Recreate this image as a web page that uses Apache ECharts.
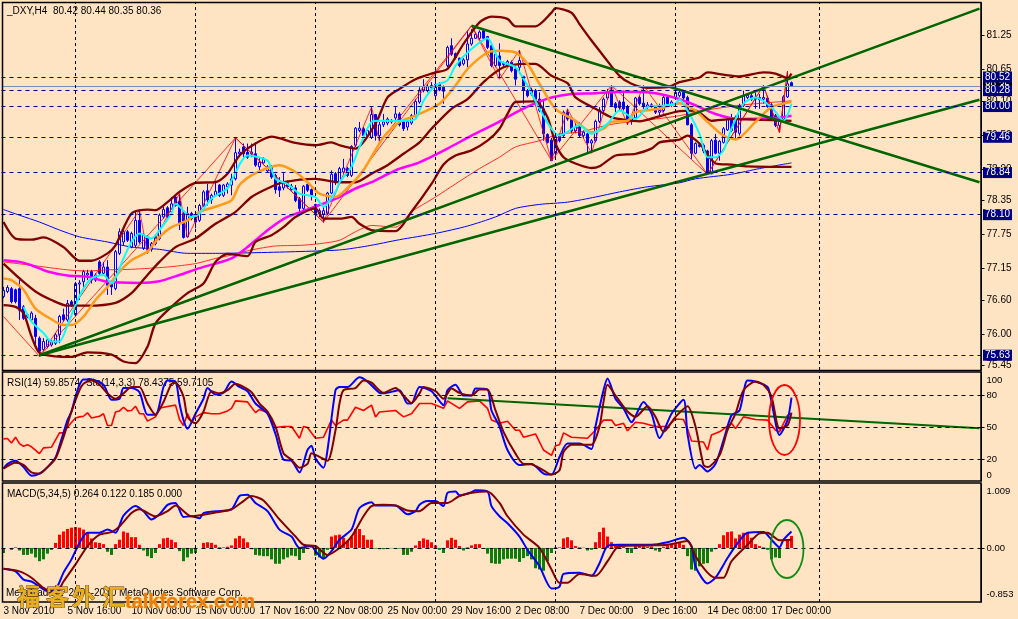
<!DOCTYPE html>
<html><head><meta charset="utf-8"><style>html,body{margin:0;padding:0;background:#FFE4C4}#c{width:1018px;height:619px}</style>
<script src="https://cdn.jsdelivr.net/npm/echarts@6/dist/echarts.min.js"></script></head><body><div id="c"></div>
<script>
// [open, close, low, high]
const candles = [
[76.66,76.77,76.63,76.83],[76.75,76.82,76.72,76.86],[76.80,76.57,76.54,76.83],[76.78,76.57,76.54,76.80],[76.80,76.42,76.25,76.95],[76.48,76.28,76.25,76.51],[76.34,76.31,76.28,76.37],[76.25,76.37,76.22,76.40],[76.28,75.96,75.78,76.34],[75.93,75.70,75.61,75.96],
[75.73,75.87,75.70,75.93],[75.78,75.90,75.75,75.93],[75.81,75.87,75.78,75.90],[75.84,75.99,75.81,76.02],[75.99,76.31,75.84,76.34],[76.34,76.25,76.22,76.45],[76.25,76.54,76.22,76.60],[76.57,76.51,76.48,76.60],[76.34,76.89,76.31,76.92],[76.88,76.90,76.60,76.95],
[76.92,77.10,76.77,77.13],[77.04,77.07,76.95,77.13],[77.10,76.95,76.89,77.13],[76.95,77.04,76.92,77.07],[77.27,77.07,77.04,77.30],[77.07,77.18,77.04,77.27],[77.18,76.86,76.69,77.30],[76.92,76.83,76.69,76.95],[76.80,77.45,76.77,77.48],[77.42,77.80,77.39,77.86],
[77.62,77.80,77.56,77.86],[77.80,77.65,77.62,77.83],[77.53,77.77,77.51,77.80],[77.56,78.00,77.53,78.15],[78.00,77.62,77.59,78.18],[77.51,77.74,77.48,77.77],[77.70,77.49,77.42,77.74],[77.49,77.59,77.45,77.62],[77.59,77.70,77.56,77.74],[77.68,78.09,77.65,78.12],
[78.06,78.19,78.03,78.24],[78.22,78.06,78.03,78.25],[78.15,78.29,78.12,78.41],[78.41,78.26,78.24,78.44],[78.34,77.96,77.83,78.47],[78.12,77.70,77.68,78.18],[77.71,78.12,77.70,78.24],[78.12,78.03,78.00,78.15],[78.06,77.97,77.86,78.09],[78.00,78.26,77.97,78.29],
[78.26,78.50,78.24,78.53],[78.52,78.36,78.26,78.64],[78.36,78.44,78.29,78.47],[78.44,78.51,78.41,78.70],[78.62,78.44,78.41,78.64],[78.44,78.62,78.41,78.64],[78.59,78.64,78.47,78.67],[78.62,78.73,78.44,78.82],[78.73,79.19,78.70,79.45],[79.17,79.20,79.11,79.26],
[79.29,79.17,79.08,79.35],[79.20,79.11,79.08,79.35],[79.17,79.20,79.11,79.35],[79.17,78.97,78.94,79.37],[78.94,79.02,78.85,79.11],[79.01,79.07,79.00,79.11],[78.87,78.94,78.85,78.97],[78.94,78.76,78.73,78.97],[78.79,78.54,78.47,78.82],[78.59,78.53,78.41,78.76],
[78.57,78.66,78.53,78.83],[78.66,78.59,78.56,78.70],[78.54,78.60,78.52,78.64],[78.57,78.35,78.32,78.62],[78.38,78.21,78.15,78.41],[78.21,78.60,78.18,78.62],[78.63,78.53,78.50,78.67],[78.54,78.44,78.35,78.56],[78.28,78.12,78.06,78.29],[78.12,78.17,78.06,78.21],
[78.11,78.17,77.96,78.24],[78.12,78.48,78.09,78.50],[78.48,78.81,78.46,78.88],[78.82,78.66,78.62,78.85],[78.67,78.91,78.64,78.94],[78.85,78.92,78.82,79.08],[78.91,78.79,78.76,78.94],[78.79,79.30,78.76,79.32],[79.32,79.62,79.29,79.64],[79.58,79.62,79.55,79.73],
[79.61,79.49,79.46,79.64],[79.49,79.58,79.46,79.61],[79.46,79.86,79.43,79.99],[79.86,79.49,79.40,79.87],[79.49,79.68,79.37,79.73],[79.68,79.73,79.64,79.87],[79.71,79.78,79.67,79.81],[79.73,79.75,79.70,79.78],[79.80,79.87,79.75,79.99],[79.87,79.68,79.65,79.90],
[79.74,79.61,79.57,79.75],[79.64,79.73,79.58,79.75],[79.71,79.84,79.68,79.87],[79.84,80.09,79.81,80.13],[80.08,80.29,80.05,80.34],[80.28,80.35,80.25,80.48],[80.28,80.35,80.25,80.40],[80.33,80.37,80.28,80.43],[80.19,80.39,80.16,80.66],[80.40,80.29,80.27,80.43],
[80.34,80.27,80.05,80.37],[80.72,81.04,80.69,81.07],[81.07,80.92,80.89,81.20],[80.93,80.86,80.83,80.95],[80.85,80.72,80.69,80.86],[80.75,80.82,80.72,80.85],[80.82,81.10,80.69,81.33],[81.10,81.20,81.07,81.36],[81.20,81.27,81.19,81.30],[81.20,81.31,81.17,81.34],
[81.33,81.20,81.19,81.36],[81.23,81.04,81.01,81.24],[81.07,80.72,80.69,81.10],[80.72,80.92,80.69,80.95],[80.89,80.72,80.51,81.11],[80.76,80.74,80.70,80.79],[80.72,80.79,80.69,80.82],[80.78,80.63,80.60,80.81],[80.66,80.48,80.37,80.69],[80.69,80.81,80.57,80.99],
[80.53,80.28,80.05,80.54],[80.28,80.19,80.16,80.31],[80.22,80.29,80.19,80.33],[80.28,80.13,80.10,80.31],[80.13,79.93,79.90,80.25],[79.96,79.52,79.40,80.11],[79.51,79.37,79.35,79.53],[79.41,79.05,79.04,79.45],[79.18,79.47,79.11,79.50],[79.49,79.40,79.37,79.52],
[79.49,79.90,79.46,79.93],[79.90,79.78,79.75,79.96],[79.78,79.57,79.53,79.81],[79.57,79.64,79.53,79.70],[79.64,79.49,79.46,79.73],[79.49,79.55,79.45,79.58],[79.52,79.36,79.18,79.55],[79.36,79.40,79.20,79.43],[79.40,79.74,79.37,79.77],[79.74,79.94,79.71,79.99],
[79.93,80.13,79.90,80.16],[80.15,80.25,80.12,80.31],[80.27,80.02,79.99,80.37],[80.05,79.98,79.90,80.08],[80.08,79.98,79.94,80.11],[80.08,79.96,79.93,80.28],[80.00,79.75,79.68,80.03],[79.74,79.81,79.68,79.84],[79.80,80.15,79.77,80.17],[80.16,80.05,80.02,80.19],
[80.06,80.00,79.96,80.37],[79.99,80.03,79.96,80.08],[80.03,80.00,79.98,80.06],[79.99,79.90,79.87,80.02],[79.90,79.93,79.82,80.05],[79.93,80.16,79.90,80.19],[80.17,80.05,80.02,80.20],[80.02,80.08,79.99,80.11],[80.16,80.25,80.13,80.28],[80.19,80.25,80.16,80.28],
[80.25,80.15,80.12,80.28],[80.16,79.68,79.67,80.19],[79.68,79.18,79.08,79.71],[79.18,79.35,79.16,79.37],[79.33,79.30,79.28,79.36],[79.32,79.22,79.18,79.35],[79.22,78.82,78.81,79.24],[78.82,79.40,78.81,79.43],[79.41,79.18,79.16,79.52],[79.18,79.39,79.05,79.41],
[79.37,79.61,79.35,79.64],[79.59,79.78,79.57,79.81],[79.80,79.58,79.55,79.87],[79.81,79.55,79.41,79.84],[79.53,80.02,79.49,80.05],[80.02,80.19,79.99,80.28],[80.16,80.20,80.13,80.23],[80.19,80.13,80.10,80.22],[80.13,80.16,79.96,80.25],[80.16,80.12,79.96,80.22],
[80.13,80.16,80.05,80.37],[80.15,80.00,79.98,80.19],[80.03,79.82,79.80,80.06],[79.84,79.67,79.64,79.87],[79.67,79.75,79.54,79.78],[79.77,80.17,79.74,80.20],[80.17,80.40,80.15,80.62],[80.42,80.36,80.35,80.44]];

const maMagenta=[[0,77.30],[4,77.27],[7,77.21],[11,77.10],[16,77.03],[21,77.01],[26,76.92],[34,76.90],[39,76.93],[44,77.04],[49,77.16],[53,77.24],[57,77.33],[61,77.53],[64,77.71],[67,77.88],[71,78.06],[76,78.19],[79,78.27],[84,78.41],[88,78.56],[92,78.67],[98,78.88],[104,79.02],[111,79.26],[117,79.49],[123,79.70],[129,79.93],[133,80.06],[137,80.16],[142,80.22],[147,80.23],[155,80.26],[161,80.25],[166,80.19],[171,80.08],[178,79.87],[184,79.78],[193,79.80],[197,79.84]];
const maOrange=[[0,76.98],[2,76.95],[5,76.78],[8,76.45],[12,76.26],[15,76.16],[17,76.16],[20,76.31],[23,76.60],[26,76.83],[29,77.10],[32,77.30],[36,77.45],[39,77.71],[42,77.88],[46,78.00],[49,78.15],[53,78.24],[57,78.35],[59,78.62],[62,78.79],[66,78.92],[69,78.97],[73,78.85],[76,78.67],[79,78.47],[83,78.41],[87,78.64],[90,78.88],[95,79.46],[99,79.73],[103,79.84],[109,80.05],[113,80.37],[116,80.66],[121,80.95],[124,80.98],[128,80.95],[131,80.75],[134,80.40],[138,79.96],[143,79.75],[147,79.55],[150,79.61],[152,79.73],[156,79.75],[158,79.90],[164,79.96],[169,80.06],[173,79.93],[176,79.73],[180,79.49],[183,79.42],[188,79.73],[192,79.99],[197,80.08]];
const maCyan=[[5,76.48],[7,76.22],[10,76.02],[12,75.87],[14,75.87],[16,76.16],[18,76.51],[20,76.80],[22,76.98],[25,77.04],[27,76.89],[30,77.33],[32,77.62],[34,77.77],[37,77.68],[39,77.83],[42,78.12],[43,78.29],[47,78.06],[49,78.12],[52,78.38],[56,78.56],[57,78.70],[61,79.14],[66,79.05],[68,78.73],[71,78.64],[74,78.47],[78,78.41],[80,78.24],[83,78.50],[84,78.67],[87,78.94],[89,79.29],[92,79.73],[94,79.75],[97,79.75],[100,79.75],[103,79.78],[105,80.10],[108,80.37],[111,80.46],[113,80.72],[117,81.01],[121,81.20],[124,80.81],[128,80.69],[131,80.37],[134,79.96],[137,79.61],[139,79.49],[144,79.67],[147,79.52],[151,79.70],[154,79.93],[158,79.78],[161,79.99],[165,80.02],[168,80.05],[169,80.13],[171,79.93],[174,79.52],[176,79.11],[178,79.11],[180,79.23],[182,79.61],[185,80.05],[188,80.16],[192,79.99],[195,79.75],[197,80.05]];
const bandUpper=[[0,77.97],[3,77.68],[7,77.66],[10,77.70],[15,77.53],[19,77.29],[22,77.29],[26,77.42],[28,77.56],[32,78.12],[36,78.19],[38,78.18],[41,78.32],[44,78.50],[48,78.66],[53,78.67],[56,78.82],[59,79.14],[63,79.35],[67,79.47],[73,79.36],[78,79.32],[82,79.37],[84,79.32],[88,79.26],[93,79.70],[96,80.16],[99,80.31],[103,80.48],[108,80.60],[111,80.66],[115,81.10],[119,81.48],[122,81.58],[126,81.54],[128,81.41],[133,81.41],[137,81.65],[138,81.73],[142,81.65],[144,81.45],[147,81.16],[150,80.89],[154,80.54],[157,80.40],[161,80.33],[166,80.34],[169,80.43],[174,80.51],[176,80.60],[180,80.56],[184,80.53],[190,80.60],[193,80.58],[196,80.50],[197,80.58]];
const bandMiddle=[[0,77.24],[4,76.98],[8,76.75],[12,76.60],[16,76.50],[21,76.50],[28,76.55],[32,76.72],[36,77.04],[39,77.27],[43,77.53],[48,77.68],[53,77.94],[58,78.15],[62,78.41],[66,78.56],[70,78.67],[78,78.73],[84,78.67],[88,78.67],[92,78.82],[96,78.97],[100,79.17],[104,79.37],[107,79.61],[112,79.96],[116,80.13],[120,80.43],[125,80.69],[130,80.75],[133,80.75],[137,80.54],[141,80.41],[143,80.16],[148,79.96],[152,79.81],[155,79.77],[159,79.74],[163,79.81],[169,79.92],[173,79.93],[177,79.75],[182,79.78],[197,79.75]];
const bandLower=[[0,76.51],[3,76.48],[5,76.37],[7,75.96],[9,75.67],[13,75.61],[17,75.60],[21,75.68],[27,75.64],[30,75.52],[33,75.49],[36,75.78],[38,76.19],[42,76.48],[46,76.72],[50,76.89],[53,77.27],[56,77.41],[61,77.37],[63,77.62],[67,77.74],[70,77.88],[73,78.06],[78,78.21],[80,78.03],[84,78.03],[87,78.06],[89,77.94],[92,77.83],[98,77.81],[102,78.15],[107,78.64],[110,78.98],[113,79.14],[117,79.23],[121,79.40],[124,79.61],[126,79.87],[128,80.08],[133,80.09],[136,79.81],[138,79.35],[140,79.11],[143,79.00],[147,78.92],[149,78.95],[153,79.14],[158,79.17],[162,79.26],[164,79.37],[169,79.42],[171,79.49],[174,79.35],[178,79.00],[182,78.98],[186,78.95],[197,78.94]];
const maThinRed=[[0,77.27],[7,77.21],[16,77.13],[21,77.11],[26,77.13],[32,77.14],[41,77.18],[48,77.24],[53,77.33],[57,77.39],[62,77.48],[68,77.55],[74,77.56],[79,77.59],[84,77.65],[88,77.80],[92,77.91],[98,77.88],[102,78.15],[108,78.41],[113,78.64],[119,78.91],[124,79.11],[128,79.29],[134,79.40],[139,79.52],[144,79.55],[149,79.64],[153,79.70],[158,79.74],[163,79.78],[169,79.84],[175,79.93],[185,80.03],[197,80.10]];
const maThinBlue=[[0,78.19],[4,78.09],[9,77.97],[14,77.83],[19,77.71],[26,77.62],[32,77.53],[39,77.49],[46,77.42],[53,77.42],[62,77.43],[73,77.45],[84,77.48],[91,77.55],[99,77.66],[108,77.77],[116,77.90],[123,78.06],[128,78.21],[134,78.28],[141,78.32],[148,78.41],[154,78.50],[161,78.59],[169,78.66],[173,78.73],[182,78.81],[189,78.91],[197,79.01]];
const zigzagMajor=[[0,76.31],[9,75.61],[58,79.45],[80,77.97],[117,81.42],[137,79.05],[152,80.37],[176,78.81],[190,80.37],[194,79.54],[196,80.62]];
const zigzagMinor=[[9,75.61],[34,78.18],[36,77.42],[44,78.47],[46,77.70],[58,79.45],[80,77.97],[92,79.99],[94,79.37],[117,81.42],[124,80.48],[129,80.99],[137,79.05],[141,79.96],[147,79.18],[152,80.37],[156,79.68],[160,80.37],[176,78.81],[190,80.37],[194,79.54],[196,80.62]];
const trendUpperRise=[[9,75.63],[244,81.72]];
const trendLowerRise=[[9,75.63],[244,80.12]];
const trendFall=[[117,81.42],[244,78.67]];

const rsi=[[0,39.4],[1,39.7],[2,35.6],[3,41],[4,35],[5,32.5],[6,34],[7,32],[9,25.6],[10,31],[12,31.6],[14,45],[15,45],[16,50.6],[18,59],[19,60],[20,60.6],[21,63.8],[22,59],[24,60.6],[25,63],[26,52],[27,52],[28,64.6],[29,65.6],[30,69],[31,65.6],[32,66],[33,70],[34,63],[35,63],[36,56],[38,60],[39,68],[40,69],[43,71],[44,57.5],[45,52],[46,63],[47,55],[48,60],[50,64],[52,63],[54,63],[56,65.6],[57,68],[58,75],[61,74],[63,64],[64,67],[66,64],[68,50],[70,51],[72,51],[74,40],[75,51],[76,50],[78,40],[80,41],[82,57],[83,52],[85,57],[86,57],[88,69],[90,66],[92,71],[93,60],[94,64.6],[98,66],[100,60],[102,63],[104,72.5],[107,72.5],[110,68],[111,75],[114,68],[116,74],[119,75],[121,68],[122,57],[124,54],[126,56],[128,47.5],[129,47.5],[130,41],[133,44],[135,29],[137,24],[138,33],[139,34],[140,45],[142,41],[146,40],[148,47.5],[150,57],[152,57],[153,52],[155,54],[156,47],[158,55],[160,54],[163,51],[166,51],[168,58],[170,57.5],[171,49],[172,37.5],[175,36.5],[176,29],[177,43],[179,46],[182,54],[183,49],[185,60],[188,57.5],[191,57],[193,47.5],[194,46],[196,61.5],[197,63]];
const stochMain=[[0,11.6],[1,16],[3,19],[5,13],[7,5],[9,7],[11,13],[13,22],[14,33],[16,57],[17,65],[18,79],[19,90],[20,95],[22,95],[25,90],[27,76],[29,77],[30,87],[32,87],[34,83],[36,62],[38,62],[40,88],[41,94],[43,93],[44,72.5],[45,57],[46,49],[48,63],[50,77],[51,87],[53,81],[55,82.5],[57,93],[59,88],[61,84],[63,72.5],[66,63],[68,44],[70,20],[72,19],[74,8],[76,29],[77,33],[78,21],[80,12.5],[81,29],[83,85],[84,88],[86,88],[89,97],[91,93],[94,82.5],[95,82],[99,85],[101,72.5],[102,72.5],[104,88],[107,84],[110,71],[111,85],[113,90],[115,80],[117,80],[118,86.5],[121,85.6],[122,66],[124,51],[126,29],[129,15],[132,16],[135,7],[137,6],[139,22.5],[141,35],[144,35],[147,30],[148,51],[150,85],[151,96],[153,77],[155,68],[157,55],[160,74],[162,63],[164,40],[167,63],[170,76],[171,44],[173,11.6],[174,15],[176,9],[178,16],[180,38],[182,61.5],[184,66],[186,94],[188,93],[191,88],[192,74],[194,43],[196,57],[197,78]];
const stochSignal=[[0,11.6],[3,17],[5,15],[7,8],[9,7],[11,13],[13,21],[15,41],[17,65],[19,85],[20,91],[22,94],[24,90],[26,82],[28,77],[30,82],[32,88],[34,88],[36,72.5],[38,62],[40,74],[42,91],[43,92],[45,79],[46,60],[48,54],[50,65],[52,84],[54,82],[56,85],[58,91],[60,88],[62,83],[64,72.5],[66,65],[68,51],[70,26],[72,20],[74,12.5],[76,16],[77,26],[79,22.5],[81,19],[83,47.5],[84,72.5],[85,85],[88,87],[90,94],[92,92],[95,82.5],[98,87],[100,80],[102,73],[104,82],[105,88],[108,84],[110,77],[112,86.5],[114,82.5],[117,80],[119,85.6],[121,85.6],[123,66],[125,46],[128,25.6],[130,16],[132,15.6],[135,10],[137,6],[139,10],[140,27],[142,34],[147,34],[149,51],[150,74],[151,90],[153,80],[156,65],[158,60],[161,70],[163,60],[165,46],[168,60],[171,70],[173,51],[175,15],[176,13],[179,24],[181,47.5],[183,63],[185,85],[188,93],[190,90],[192,79],[194,49],[196,52],[197,64]];
const rsiTrend=[[111,77.5],[244,49.4]];
const macdMain=[[0,-.33],[3,-.37],[5,-.50],[7,-.53],[9,-.61],[11,-.68],[13,-.66],[15,-.39],[17,-.18],[19,.08],[21,.24],[24,.24],[26,.29],[28,.24],[30,.51],[33,.66],[35,.58],[37,.45],[39,.53],[41,.68],[43,.71],[45,.49],[47,.50],[49,.47],[50,.55],[53,.58],[57,.61],[59,.82],[61,.84],[63,.71],[66,.58],[69,.29],[72,.18],[74,0],[77,.03],[78,-.05],[80,-.17],[82,-.05],[84,.13],[87,.29],[89,.63],[92,.72],[93,.67],[98,.67],[101,.53],[103,.58],[104,.68],[106,.74],[108,.74],[110,.66],[111,.87],[113,.89],[114,.83],[117,.88],[118,.91],[121,.89],[122,.66],[124,.50],[126,.39],[129,.18],[131,-.03],[134,-.29],[137,-.64],[139,-.61],[140,-.41],[144,-.39],[147,-.44],[149,-.24],[151,.03],[154,.05],[162,.05],[166,.09],[170,.16],[172,.03],[173,-.29],[176,-.56],[178,-.47],[181,-.16],[183,.03],[186,.24],[190,.25],[192,.13],[194,.01],[195,.13],[197,.26]];
const macdSignal=[[0,-.33],[4,-.37],[7,-.47],[10,-.63],[13,-.72],[15,-.53],[18,-.26],[21,.03],[24,.21],[27,.25],[29,.34],[32,.55],[34,.61],[38,.50],[41,.58],[43,.67],[47,.50],[53,.56],[57,.61],[60,.74],[62,.82],[65,.75],[69,.45],[73,.18],[75,.05],[78,.03],[81,-.11],[84,0],[87,.18],[90,.50],[92,.66],[95,.68],[98,.67],[101,.59],[104,.58],[107,.71],[111,.71],[114,.82],[118,.88],[121,.89],[124,.71],[126,.50],[130,.21],[134,0],[137,-.34],[139,-.55],[141,-.55],[144,-.41],[148,-.44],[151,-.21],[154,.03],[162,.04],[166,.05],[171,.11],[173,-.13],[176,-.39],[178,-.47],[180,-.47],[182,-.21],[186,.05],[189,.23],[191,.24],[194,.12],[197,.13]];
const macdHist=[-.08,0,-.03,.01,-.04,-.11,-.11,-.09,-.15,-.21,-.18,-.09,-.03,.08,.21,.26,.30,.32,.33,.32,.29,.25,.15,.09,.08,.06,-.06,-.11,.06,.13,.26,.24,.17,.17,.05,-.04,-.13,-.16,-.08,.06,.15,.16,.13,.09,-.05,-.21,-.15,-.09,-.08,0,.08,.09,.08,.05,.01,.01,.02,.04,.15,.19,.15,.09,-.02,-.11,-.12,-.13,-.13,-.18,-.25,-.25,-.18,-.15,-.12,-.13,-.19,-.08,0,.01,-.12,-.15,-.16,-.03,.18,.20,.21,.16,.11,.18,.30,.30,.20,.13,.13,-.01,-.02,-.02,-.01,-.005,0,-.01,-.11,-.11,-.06,.04,.11,.15,.13,.09,.04,-.03,-.08,.12,.16,.13,.03,-.04,.01,.04,.06,.06,0,-.09,-.24,-.25,-.25,-.18,-.17,-.17,-.17,-.22,-.16,-.13,-.18,-.32,-.34,-.36,-.21,-.08,.01,.01,.15,.17,.12,.03,.01,.005,-.04,-.03,.09,.25,.32,.18,.09,.05,.04,.02,-.08,-.08,.03,.03,.03,.02,.02,-.04,-.06,.02,.04,.06,.08,.09,.05,-.13,-.34,-.36,-.29,-.25,-.24,-.06,-.02,.06,.20,.25,.26,.15,.21,.24,.24,.16,.06,.03,.01,-.03,-.18,-.15,-.16,0,.13,.19];

const timeLabels=["3 Nov 2010","5 Nov 16:00","10 Nov 08:00","15 Nov 00:00","17 Nov 16:00","22 Nov 08:00","25 Nov 00:00","29 Nov 16:00","2 Dec 08:00","7 Dec 00:00","9 Dec 16:00","14 Dec 08:00","17 Dec 00:00"];
const priceTicks=[81.25,80.65,80.10,79.50,78.90,78.35,77.75,77.15,76.60,76.00,75.45];
const priceLevels=[80.52,80.28,80.00,79.46,78.84,78.10,75.63];
const bidLevel=80.35;
const timeGridBars=[18,48,78,108,138,168,204];
const rsiLevels=[80,50,20];
const macdLevels=[0];

const FONT='"Liberation Sans"',NAVY='#000080',MAROON='#800000',GREEN='#006400',BG='#FFE4C4';
const barCount=245;
const cats=Array.from({length:barCount},(_,i)=>i);
const gridX={left:1.5,width:980};
const vDash=timeGridBars.map(b=>({xAxis:b,lineStyle:{color:'#000',type:[3,3],width:1}}));
function hDash(vals,color){return vals.map(v=>({yAxis:v,lineStyle:{color,type:[4,4],width:1}}));}
function tagLabel(bg){return {show:true,position:'end',distance:1.5,formatter:p=>Number(p.value).toFixed(2),backgroundColor:bg,color:'#fff',fontFamily:FONT,fontSize:10,padding:[1,2,0,2],lineHeight:10};}
function line(name,data,color,width,idx,extra){return Object.assign({name,type:'line',data,xAxisIndex:idx||0,yAxisIndex:idx||0,symbol:'none',showSymbol:false,smooth:false,silent:true,animation:false,connectNulls:true,lineStyle:{color,width},z:3},extra||{});}
const S={smooth:.25};

const mainMark=[
 {yAxis:bidLevel,lineStyle:{color:'#7890B0',type:'solid',width:1},label:tagLabel('#000')},
 ...priceLevels.map(v=>({yAxis:v,lineStyle:{color:NAVY,type:[4,4],width:1},label:tagLabel(NAVY)})),
 ...vDash.map(d=>Object.assign({label:{show:false}},d))
];
const candleSeries={type:'candlestick',data:candles,xAxisIndex:0,yAxisIndex:0,barWidth:3,silent:true,animation:false,z:2,
 itemStyle:{color:'#ffffff',color0:'#0000ff',borderColor:'#0000ff',borderColor0:'#0000ff',borderWidth:1},
 markLine:{silent:true,animation:false,symbol:'none',precision:2,data:mainMark}};

const option={
 animation:false,backgroundColor:BG,
 grid:[
  Object.assign({top:3,height:367},gridX),
  Object.assign({top:372,height:109},gridX),
  Object.assign({top:484,height:118},gridX)
 ].map(g=>Object.assign(g,{show:false})),
 xAxis:[0,1,2].map(i=>({type:'category',gridIndex:i,data:cats,boundaryGap:true,axisLine:{show:false},axisTick:{show:false},splitLine:{show:false},
  axisLabel:i<2?{show:false}:{show:true,interval:15,align:'left',margin:4,color:'#000',fontFamily:FONT,fontSize:10,showMinLabel:true,showMaxLabel:false,formatter:v=>timeLabels[v/16]||''}})),
 yAxis:[
  {type:'value',gridIndex:0,position:'right',min:75.37,max:81.82,scale:true,splitLine:{show:false},axisLine:{show:true,onZero:false,lineStyle:{color:'#000'}},axisTick:{show:true,length:3,lineStyle:{color:'#000'},customValues:priceTicks},axisLabel:{customValues:priceTicks,formatter:v=>v.toFixed(2),color:'#000',fontFamily:FONT,fontSize:10,margin:5}},
  {type:'value',gridIndex:1,position:'right',min:0,max:102,splitLine:{show:false},axisLine:{show:true,onZero:false,lineStyle:{color:'#000'}},axisTick:{show:true,length:3,lineStyle:{color:'#000'},customValues:[80,50,20]},axisLabel:{customValues:[94,80,50,20,5.5],formatter:v=>({94:'100',80:'80',50:'50',20:'20',5.5:'0'})[v],color:'#000',fontFamily:FONT,fontSize:9.5,margin:5}},
  {type:'value',gridIndex:2,position:'right',min:-.853,max:1.009,splitLine:{show:false},axisLine:{show:true,onZero:false,lineStyle:{color:'#000'}},axisTick:{show:true,length:3,lineStyle:{color:'#000'},customValues:[0]},axisLabel:{customValues:[.9,0,-.74],formatter:v=>({0.9:'1.009',0:'0.00','-0.74':'-0.853'})[v],color:'#000',fontFamily:FONT,fontSize:9.5,margin:5}}
 ],
 series:[
  candleSeries,
  line('thinBlue',maThinBlue,'#0000ff',1,0,S),
  line('thinRed',maThinRed,'#ff0000',.8,0,S),
  line('zigzagMajor',zigzagMajor,'#ff0000',.8),
  line('zigzagMinor',zigzagMinor,'#ff0000',.8),
  line('magenta',maMagenta,'#ff00ff',2.5,0,S),
  line('bandUpper',bandUpper,MAROON,2.3,0,S),
  line('bandMiddle',bandMiddle,MAROON,2.3,0,S),
  line('bandLower',bandLower,MAROON,2.3,0,S),
  line('orange',maOrange,'#ff9a1a',2.5,0,S),
  line('cyan',maCyan,'#00ffff',2,0,S),
  line('trend1',trendUpperRise,GREEN,2.5),
  line('trend2',trendLowerRise,GREEN,2.5),
  line('trend3',trendFall,GREEN,2.5),
  line('rsi',rsi,'#ff0000',1.6,1,{markLine:{silent:true,animation:false,symbol:'none',label:{show:false},data:[...hDash(rsiLevels,'#000'),...vDash]}}),
  line('rsiTrend',rsiTrend,GREEN,2,1),
  line('stochMain',stochMain,'#0000ff',2,1,S),
  line('stochSignal',stochSignal,MAROON,2,1,S),
  {name:'hist',type:'bar',xAxisIndex:2,yAxisIndex:2,data:macdHist,barWidth:3,silent:true,animation:false,z:2,
   itemStyle:{color:p=>p.value>=0?'#ff0000':'#0a7d0a'},
   markLine:{silent:true,animation:false,symbol:'none',label:{show:false},data:[...hDash(macdLevels,'#000'),...vDash]}},
  line('macdMain',macdMain,'#0000ff',2,2,S),
  line('macdSignal',macdSignal,MAROON,2,2,S)
 ],
 graphic:[
  {type:'rect',shape:{x:2.5,y:2.5,width:978.5,height:368},style:{fill:'none',stroke:'#000',lineWidth:1.5},silent:true,z:50},
  {type:'rect',shape:{x:2.5,y:372,width:978.5,height:109},style:{fill:'none',stroke:'#000',lineWidth:1.5},silent:true,z:50},
  {type:'rect',shape:{x:2.5,y:483,width:978.5,height:119},style:{fill:'none',stroke:'#000',lineWidth:1.5},silent:true,z:50},
  {type:'text',x:7,y:6,style:{text:'_DXY,H4  80.42 80.44 80.35 80.36',font:'10px "Liberation Sans"',fill:'#000'},z:40},
  {type:'text',x:7,y:378,style:{text:'RSI(14) 59.8574  Sto(14,3,3) 78.4375 59.7105',font:'10px "Liberation Sans"',fill:'#000'},z:1},
  {type:'text',x:7,y:489,style:{text:'MACD(5,34,5) 0.264 0.122 0.185 0.000',font:'10px "Liberation Sans"',fill:'#000'},z:1},
  {type:'text',x:6,y:588,style:{text:'MetaTrader ? 2001-2010 MetaQuotes Software Corp.',font:'10px "Liberation Sans"',fill:'#000'},z:1},
  {type:'ellipse',shape:{cx:784.5,cy:420,rx:15.5,ry:35},style:{fill:'none',stroke:'#ff0000',lineWidth:1.8},silent:true,z:45},
  {type:'ellipse',shape:{cx:787,cy:549,rx:16.5,ry:29},style:{fill:'none',stroke:'#138a13',lineWidth:1.8},silent:true,z:45},
  ...[['福',17],['客',46],['外',72],['汇',102]].map(([t,x])=>({type:'text',x,y:585,style:{text:t,font:'bold 23px "Noto Sans CJK SC"',fill:'#E8B020',stroke:'#5a3000',lineWidth:.8},silent:true,z:60})),
  {type:'text',x:125,y:592,style:{text:'talkforex.com',font:'bold 20px "Liberation Sans"',fill:'#EE7A10',stroke:'#F4C830',lineWidth:.7},silent:true,z:60}
 ]
};
const chart=echarts.init(document.getElementById('c'),null,{width:1018,height:619});
chart.setOption(option);
</script></body></html>
